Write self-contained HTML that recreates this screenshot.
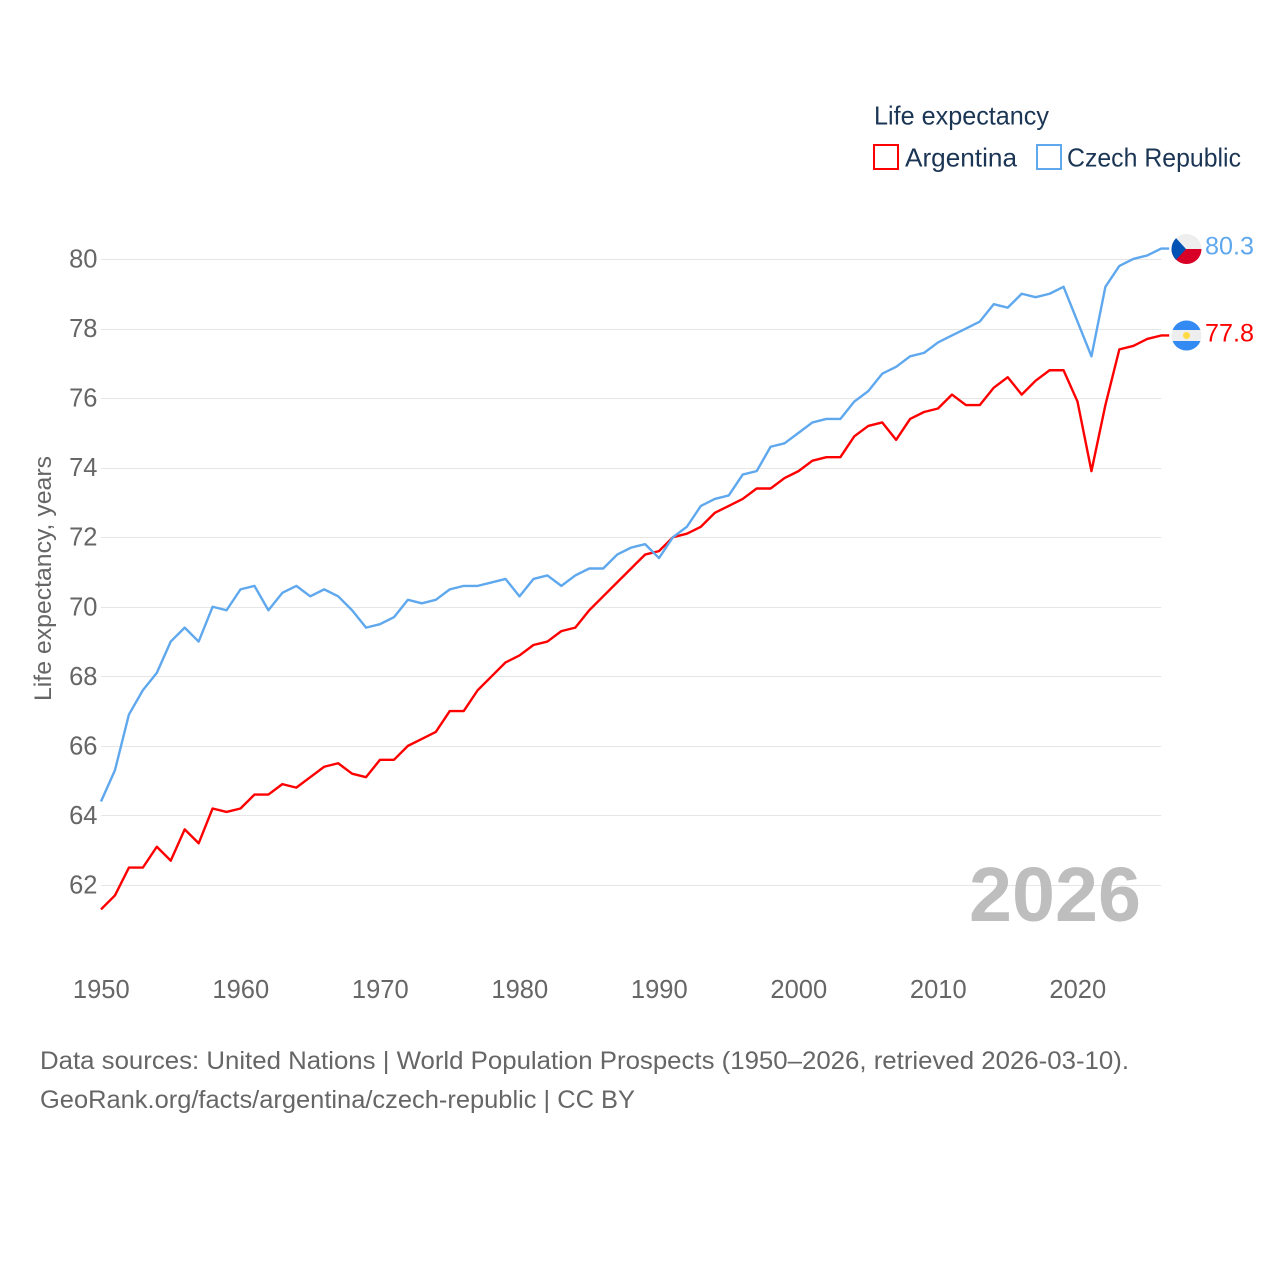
<!DOCTYPE html>
<html lang="en">
<head>
<meta charset="utf-8">
<title>Life expectancy: Argentina vs Czech Republic</title>
<style>
html,body{margin:0;padding:0;background:#fff;width:1280px;height:1280px;overflow:hidden}
svg{display:block}
text{font-family:"Liberation Sans",sans-serif}
</style>
</head>
<body>
<svg id="chart" xmlns="http://www.w3.org/2000/svg" width="1280" height="1280" viewBox="0 0 1280 1280">
  <defs>
    <clipPath id="clip-cz"><circle cx="1186.5" cy="249" r="15"/></clipPath>
    <clipPath id="clip-ar"><circle cx="1186.5" cy="335.5" r="15"/></clipPath>
  </defs>
  <g id="grid"></g>
  <g id="yticks"></g>
  <g id="xticks"></g>
  <text transform="translate(51,701) rotate(-90)" font-size="24" fill="#666" textLength="245" lengthAdjust="spacingAndGlyphs">Life expectancy, years</text>
  <text x="969" y="921" font-size="77" font-weight="700" fill="#bbbbbb" opacity="0.95" textLength="172" lengthAdjust="spacingAndGlyphs">2026</text>
  <g id="series"></g>

  <g>
    <text x="874" y="124.5" font-size="26" fill="#1b3555" textLength="175" lengthAdjust="spacingAndGlyphs">Life expectancy</text>
    <rect x="874" y="145" width="24" height="24" fill="#fff" stroke="#ff0000" stroke-width="2"/>
    <text x="905" y="166.5" font-size="26" fill="#1b3555" textLength="112" lengthAdjust="spacingAndGlyphs">Argentina</text>
    <rect x="1037" y="145" width="24" height="24" fill="#fff" stroke="#5fa8ee" stroke-width="2"/>
    <text x="1067" y="166.5" font-size="26" fill="#1b3555" textLength="174" lengthAdjust="spacingAndGlyphs">Czech Republic</text>
  </g>

  <g clip-path="url(#clip-cz)">
    <rect x="1171" y="234" width="31" height="15" fill="#eeeeee"/>
    <rect x="1171" y="249" width="31" height="15" fill="#d80027"/>
    <path d="M1171 233 L1175 237 L1186 249 L1175 261 L1171 265 Z" fill="#0052b4"/>
  </g>
  <g clip-path="url(#clip-ar)">
    <rect x="1171" y="320" width="31" height="31" fill="#eeeeee"/>
    <rect x="1171" y="320" width="31" height="10" fill="#338af3"/>
    <rect x="1171" y="341" width="31" height="10" fill="#338af3"/>
    <circle cx="1186.5" cy="335.5" r="3.5" fill="#ffda44"/>
  </g>
  <text x="1205" y="254.5" font-size="25" fill="#5fa8ee" textLength="49" lengthAdjust="spacingAndGlyphs">80.3</text>
  <text x="1205" y="341.5" font-size="25" fill="#ff0000" textLength="49" lengthAdjust="spacingAndGlyphs">77.8</text>

  <text x="40" y="1069" font-size="25" fill="#666" textLength="1089" lengthAdjust="spacingAndGlyphs">Data sources: United Nations | World Population Prospects (1950–2026, retrieved 2026-03-10).</text>
  <text x="40" y="1108" font-size="25" fill="#666" textLength="595" lengthAdjust="spacingAndGlyphs">GeoRank.org/facts/argentina/czech-republic | CC BY</text>
</svg>
<script>
const startYear = 1950;
const argentinaValues = [61.3,61.7,62.5,62.5,63.1,62.7,63.6,63.2,64.2,64.1,64.2,64.6,64.6,64.9,64.8,65.1,65.4,65.5,65.2,65.1,65.6,65.6,66.0,66.2,66.4,67.0,67.0,67.6,68.0,68.4,68.6,68.9,69.0,69.3,69.4,69.9,70.3,70.7,71.1,71.5,71.6,72.0,72.1,72.3,72.7,72.9,73.1,73.4,73.4,73.7,73.9,74.2,74.3,74.3,74.9,75.2,75.3,74.8,75.4,75.6,75.7,76.1,75.8,75.8,76.3,76.6,76.1,76.5,76.8,76.8,75.9,73.9,75.8,77.4,77.5,77.7,77.8];
const czechValues = [64.4,65.3,66.9,67.6,68.1,69.0,69.4,69.0,70.0,69.9,70.5,70.6,69.9,70.4,70.6,70.3,70.5,70.3,69.9,69.4,69.5,69.7,70.2,70.1,70.2,70.5,70.6,70.6,70.7,70.8,70.3,70.8,70.9,70.6,70.9,71.1,71.1,71.5,71.7,71.8,71.4,72.0,72.3,72.9,73.1,73.2,73.8,73.9,74.6,74.7,75.0,75.3,75.4,75.4,75.9,76.2,76.7,76.9,77.2,77.3,77.6,77.8,78.0,78.2,78.7,78.6,79.0,78.9,79.0,79.2,78.2,77.2,79.2,79.8,80.0,80.1,80.3];
const yTickValues = [62,64,66,68,70,72,74,76,78,80];
const xTickValues = [1950,1960,1970,1980,1990,2000,2010,2020];

const NS = 'http://www.w3.org/2000/svg';
function xScale(year){ return 101 + (year - 1950) * 13.95; }
function yScale(v){ return 885 - (v - 62) * 34.78; }

const grid = document.getElementById('grid');
const yticks = document.getElementById('yticks');
const xticks = document.getElementById('xticks');
const seriesGroup = document.getElementById('series');

yTickValues.forEach(function(v){
  const gy = Math.round(yScale(v)) + 0.5;
  const line = document.createElementNS(NS, 'line');
  
  
  line.setAttribute('x1', xScale(1950));
  line.setAttribute('x2', xScale(2026));
  line.setAttribute('y1', gy);
  line.setAttribute('y2', gy);
  line.setAttribute('stroke', '#e6e6e6');
  line.setAttribute('stroke-width', '1');
  grid.appendChild(line);

  const t = document.createElementNS(NS, 'text');
  
  
  t.setAttribute('x', 97.5);
  t.setAttribute('y', yScale(v) + 8.5);
  t.setAttribute('text-anchor', 'end');
  t.setAttribute('font-size', '25.5');
  t.setAttribute('fill', '#666');
  t.textContent = v;
  yticks.appendChild(t);
});

xTickValues.forEach(function(y){
  const t = document.createElementNS(NS, 'text');
  
  
  t.setAttribute('x', xScale(y) + 0.3);
  t.setAttribute('y', 998);
  t.setAttribute('text-anchor', 'middle');
  t.setAttribute('font-size', '25.5');
  t.setAttribute('fill', '#666');
  t.textContent = y;
  xticks.appendChild(t);
});

function drawSeries(values, color, name){
  const pts = values.map(function(v, i){
    return xScale(startYear + i).toFixed(2) + ',' + yScale(v).toFixed(2);
  });
  const lastY = yScale(values[values.length - 1]).toFixed(2);
  pts.push((xScale(startYear + values.length - 1) + 8).toFixed(2) + ',' + lastY);
  const line = document.createElementNS(NS, 'polyline');
  
  
  line.setAttribute('points', pts.join(' '));
  line.setAttribute('fill', 'none');
  line.setAttribute('stroke', color);
  line.setAttribute('stroke-width', '2.4');
  line.setAttribute('stroke-linejoin', 'round');
  seriesGroup.appendChild(line);
}
drawSeries(argentinaValues, '#ff0000', 'line-argentina');
drawSeries(czechValues, '#5fa8ee', 'line-czech-republic');
</script>
</body>
</html>
